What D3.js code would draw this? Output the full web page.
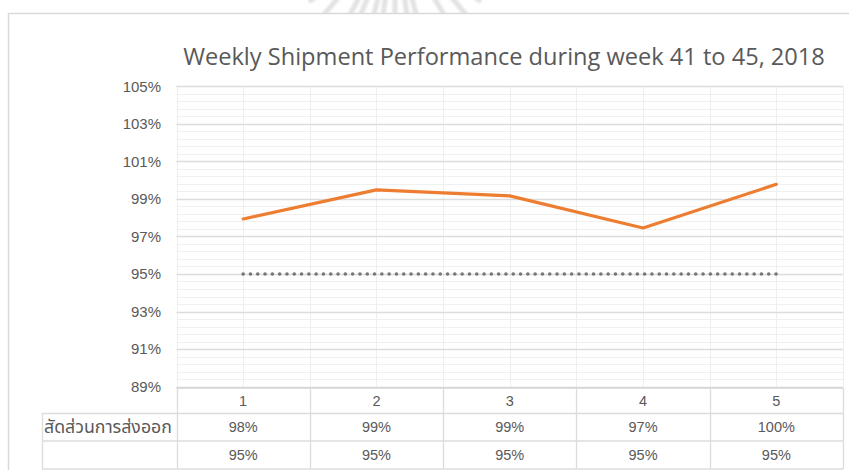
<!DOCTYPE html>
<html>
<head>
<meta charset="utf-8">
<script src="https://cdn.jsdelivr.net/npm/d3@7"></script>
<style>
  html, body { margin: 0; padding: 0; background: #fff; }
  svg { display: block; }
  text { font-family: "Open Sans", "Liberation Sans", "Noto Sans", sans-serif; fill: #595959; }
</style>
</head>
<body>
<svg id="chart" width="849" height="470"></svg>
<script>
// Weekly shipment ratio (weeks 41–45) against the 95% target
const categories = ["1", "2", "3", "4", "5"];
const shipmentRatio = [0.9793, 0.9948, 0.9916, 0.9745, 0.9978];
const targetRatio = [0.95, 0.95, 0.95, 0.95, 0.95];
const yTicks = [0.89, 0.91, 0.93, 0.95, 0.97, 0.99, 1.01, 1.03, 1.05];
const rowLabels = ["สัดส่วนการส่งออก", ""];
const titleText = "Weekly Shipment Performance during week 41 to 45, 2018";

const svg = d3.select("#chart");
const W = 849, H = 470;
const plot = { left: 176.5, right: 843, top: 86.3, bottom: 388 };
const tableRows = [388, 413.5, 441, 469];
const tableLeft = 42;

const pct = d3.format(".0%");

const x = d3.scaleBand().domain(categories).range([plot.left, plot.right]);
const xc = d => x(d) + x.bandwidth() / 2;
const y = d3.scaleLinear().domain([0.89, 1.05]).range([386.6, plot.top]);

// scale a text element's font size so it spans the given width
function fitWidth(sel, base, width) {
  sel.style("font-size", base + "px");
  const w = sel.node().getComputedTextLength();
  if (w > 0) sel.style("font-size", (base * width / w) + "px");
}

// faint emblem at the top edge
const defs = svg.append("defs");
defs.append("filter").attr("id", "soft")
  .append("feGaussianBlur").attr("stdDeviation", 1.2);
defs.append("clipPath").attr("id", "topband")
  .append("rect").attr("x", 0).attr("y", 0).attr("width", W).attr("height", 13);
const emblem = svg.append("g").attr("clip-path", "url(#topband)")
  .append("g").attr("filter", "url(#soft)");
const cx0 = 395, cy0 = -70;
[-62, -50, -40, -28, -22, -14, -8, 0, 8, 14, 30, 40, 50, 62].forEach(a => {
  const r = a * Math.PI / 180;
  emblem.append("line")
    .attr("x1", cx0 + Math.sin(r) * 60).attr("y1", cy0 + Math.cos(r) * 60)
    .attr("x2", cx0 + Math.sin(r) * 110).attr("y2", cy0 + Math.cos(r) * 110)
    .attr("stroke", "#e2e2e2").attr("stroke-width", 5).attr("stroke-linecap", "round");
});

// chart area border
svg.append("path")
  .attr("d", `M8.5,${H} V13.5 H${W}`)
  .attr("fill", "none").attr("stroke", "#d9d9d9").attr("stroke-width", 1.5);

// title
const title = svg.append("text")
  .attr("x", 504).attr("y", 65)
  .attr("text-anchor", "middle")
  .text(titleText);
fitWidth(title, 20, 642);

// minor horizontal gridlines
const grid = svg.append("g");
const minor = d3.range(0.89, 1.05 + 1e-9, 0.004);
grid.selectAll("line.minor").data(minor).join("line")
  .attr("x1", plot.left).attr("x2", plot.right)
  .attr("y1", d => Math.round(y(d)) + 0.5).attr("y2", d => Math.round(y(d)) + 0.5)
  .attr("stroke", "#f0f0f0").attr("stroke-width", 1);

// vertical gridlines at band edges and centres
const edges = categories.map(c => x(c)).concat([plot.right]);
grid.selectAll("line.vc").data(categories).join("line")
  .attr("x1", d => Math.round(xc(d)) + 0.5).attr("x2", d => Math.round(xc(d)) + 0.5)
  .attr("y1", plot.top).attr("y2", plot.bottom)
  .attr("stroke", "#efefef").attr("stroke-width", 1);
grid.selectAll("line.ve").data(edges).join("line")
  .attr("x1", d => Math.round(d) + 0.5).attr("x2", d => Math.round(d) + 0.5)
  .attr("y1", plot.top).attr("y2", plot.bottom)
  .attr("stroke", "#efefef").attr("stroke-width", 1);

// major horizontal gridlines
grid.selectAll("line.major").data(yTicks).join("line")
  .attr("x1", plot.left).attr("x2", plot.right)
  .attr("y1", d => Math.round(y(d)) + 0.5).attr("y2", d => Math.round(y(d)) + 0.5)
  .attr("stroke", "#dcdcdc").attr("stroke-width", 1.3);

// y axis labels
const yAxis = svg.append("g")
  .attr("transform", `translate(161,0)`)
  .call(d3.axisLeft(y).tickValues(yTicks).tickFormat(pct).tickSize(0).tickPadding(0));
yAxis.select(".domain").remove();
yAxis.selectAll("text")
  .style("font-size", "15px")
  .style("font-family", "'Liberation Sans', sans-serif")
  .attr("fill", "#595959");

// data table lines
const table = svg.append("g");
table.append("line")
  .attr("x1", plot.left).attr("x2", plot.right)
  .attr("y1", tableRows[0]).attr("y2", tableRows[0])
  .attr("stroke", "#d4d4d4").attr("stroke-width", 1.5);
table.selectAll("line.row").data(tableRows.slice(1)).join("line")
  .attr("x1", tableLeft).attr("x2", plot.right)
  .attr("y1", d => d).attr("y2", d => d)
  .attr("stroke", "#dcdcdc").attr("stroke-width", 1.3);
table.selectAll("line.col").data(edges).join("line")
  .attr("x1", d => Math.round(d) + 0.5).attr("x2", d => Math.round(d) + 0.5)
  .attr("y1", tableRows[0]).attr("y2", tableRows[3])
  .attr("stroke", "#dcdcdc").attr("stroke-width", 1.3);
table.append("line")
  .attr("x1", tableLeft + 0.5).attr("x2", tableLeft + 0.5)
  .attr("y1", tableRows[1]).attr("y2", tableRows[3])
  .attr("stroke", "#dcdcdc").attr("stroke-width", 1.3);

const cellFont = "14.5px";
// category row
table.selectAll("text.cat").data(categories).join("text")
  .attr("x", d => xc(d)).attr("y", (tableRows[0] + tableRows[1]) / 2 + 5)
  .attr("text-anchor", "middle")
  .style("font-family", "'Liberation Sans', sans-serif")
  .style("font-size", cellFont)
  .text(d => d);

// value rows
const rows = [shipmentRatio, targetRatio];
rows.forEach((vals, i) => {
  const cy = (tableRows[i + 1] + tableRows[i + 2]) / 2 + 5;
  table.selectAll(`text.v${i}`).data(vals).join("text")
    .attr("x", (d, j) => xc(categories[j])).attr("y", cy)
    .attr("text-anchor", "middle")
    .style("font-family", "'Liberation Sans', sans-serif")
    .style("font-size", cellFont)
    .text(d => pct(d));
  if (rowLabels[i]) {
    const lbl = table.append("text")
      .attr("x", 44).attr("y", cy + 0.5)
      .style("font-family", "'Noto Sans Thai', 'Noto Sans', 'DejaVu Sans', sans-serif")
      .attr("fill", "#404040")
      .text(rowLabels[i]);
    fitWidth(lbl, 16, 128);
  }
});

// target line (dotted)
const line = d3.line().x((d, j) => xc(categories[j])).y(d => y(d));
svg.append("path")
  .datum(targetRatio)
  .attr("d", line)
  .attr("fill", "none")
  .attr("stroke", "#767676")
  .attr("stroke-width", 3.6)
  .attr("stroke-linecap", "round")
  .attr("stroke-dasharray", "0 7.3");

// shipment ratio line
svg.append("path")
  .datum(shipmentRatio)
  .attr("d", line)
  .attr("fill", "none")
  .attr("stroke", "#ED7D31")
  .attr("stroke-width", 3.2)
  .attr("stroke-linecap", "round")
  .attr("stroke-linejoin", "round");
</script>
</body>
</html>
